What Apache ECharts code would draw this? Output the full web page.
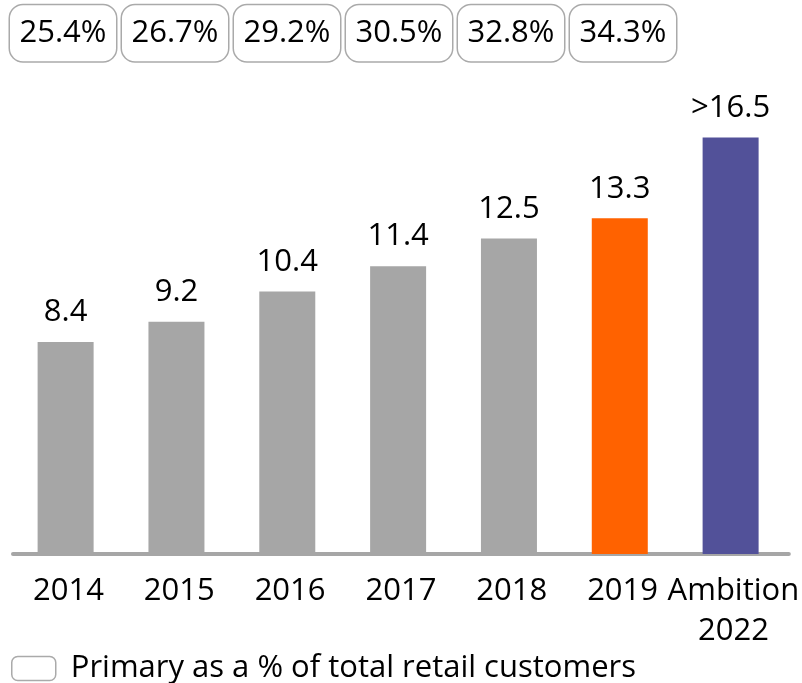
<!DOCTYPE html>
<html>
<head>
<meta charset="utf-8">
<script src="https://cdn.jsdelivr.net/npm/echarts@6/dist/echarts.min.js"></script>
<style>
  html, body { margin: 0; padding: 0; background: #fff; }
  #chart { width: 802px; height: 683px; }
</style>
</head>
<body>
<div id="chart"></div>
<script>
const years = ['2014', '2015', '2016', '2017', '2018', '2019', 'Ambition\n2022'];
const customers = [8.4, 9.2, 10.4, 11.4, 12.5, 13.3, 16.5];
const primaryShare = ['25.4%', '26.7%', '29.2%', '30.5%', '32.8%', '34.3%', ''];
const legendName = 'Primary as a % of total retail customers';

const grey = '#a6a6a6';
const orange = '#ff6200';
const purple = '#525199';
const font = 'Open Sans';

const chart = echarts.init(document.getElementById('chart'));

// colour per bar: history grey, current year orange, ambition purple
const barData = customers.map((v, i) => ({
  value: v,
  itemStyle: { color: i === customers.length - 1 ? purple : (i === customers.length - 2 ? orange : grey) }
}));

chart.setOption({
  animation: false,
  textStyle: { fontFamily: font },
  grid: [
    { left: 13, right: 10, top: 74.25, bottom: 129 },
    // the share boxes sit on a slightly tighter row above the bars
    { left: 7, right: 11, top: 74.25, bottom: 129 }
  ],
  legend: {
    left: 11,
    top: 653,
    padding: 0,
    itemWidth: 44,
    itemHeight: 24,
    data: [{
      name: legendName,
      icon: 'roundRect',
      itemStyle: { color: '#fff', borderColor: '#aaa', borderWidth: 1.5 }
    }],
    textStyle: { fontFamily: font, fontSize: 31, color: '#000', padding: [0, 0, 0, 10] }
  },
  xAxis: [{
    type: 'category',
    gridIndex: 0,
    data: years,
    offset: 2,
    axisLine: { lineStyle: { color: grey, width: 4 } },
    axisTick: { show: false },
    axisLabel: {
      interval: 0,
      margin: 15,
      color: '#000',
      fontFamily: font,
      fontSize: 31,
      lineHeight: 40
    }
  }, {
    type: 'category',
    gridIndex: 1,
    data: primaryShare,
    position: 'top',
    axisLine: { show: false },
    axisTick: { show: false },
    axisLabel: {
      interval: 0,
      margin: 13,
      formatter: v => v ? '{b|' + v + '}' : '',
      rich: {
        b: {
          width: 106,
          height: 56,
          lineHeight: 56,
          align: 'center',
          fontFamily: font,
          fontSize: 31,
          color: '#000',
          backgroundColor: '#fff',
          borderColor: '#aaa',
          borderWidth: 1.5,
          borderRadius: 13
        }
      }
    }
  }],
  yAxis: [{
    type: 'value',
    gridIndex: 0,
    min: 0,
    max: 19,
    show: false
  }, {
    type: 'value',
    gridIndex: 1,
    min: 0,
    max: 19,
    show: false
  }],
  series: [{
    type: 'bar',
    barWidth: 56,
    data: barData,
    label: {
      show: true,
      position: 'top',
      distance: 14,
      color: '#000',
      fontFamily: font,
      fontSize: 31,
      formatter: p => (p.dataIndex === customers.length - 1 ? '>' : '') + p.value
    }
  }, {
    name: legendName,
    type: 'bar',
    data: []
  }]
});
</script>
</body>
</html>
